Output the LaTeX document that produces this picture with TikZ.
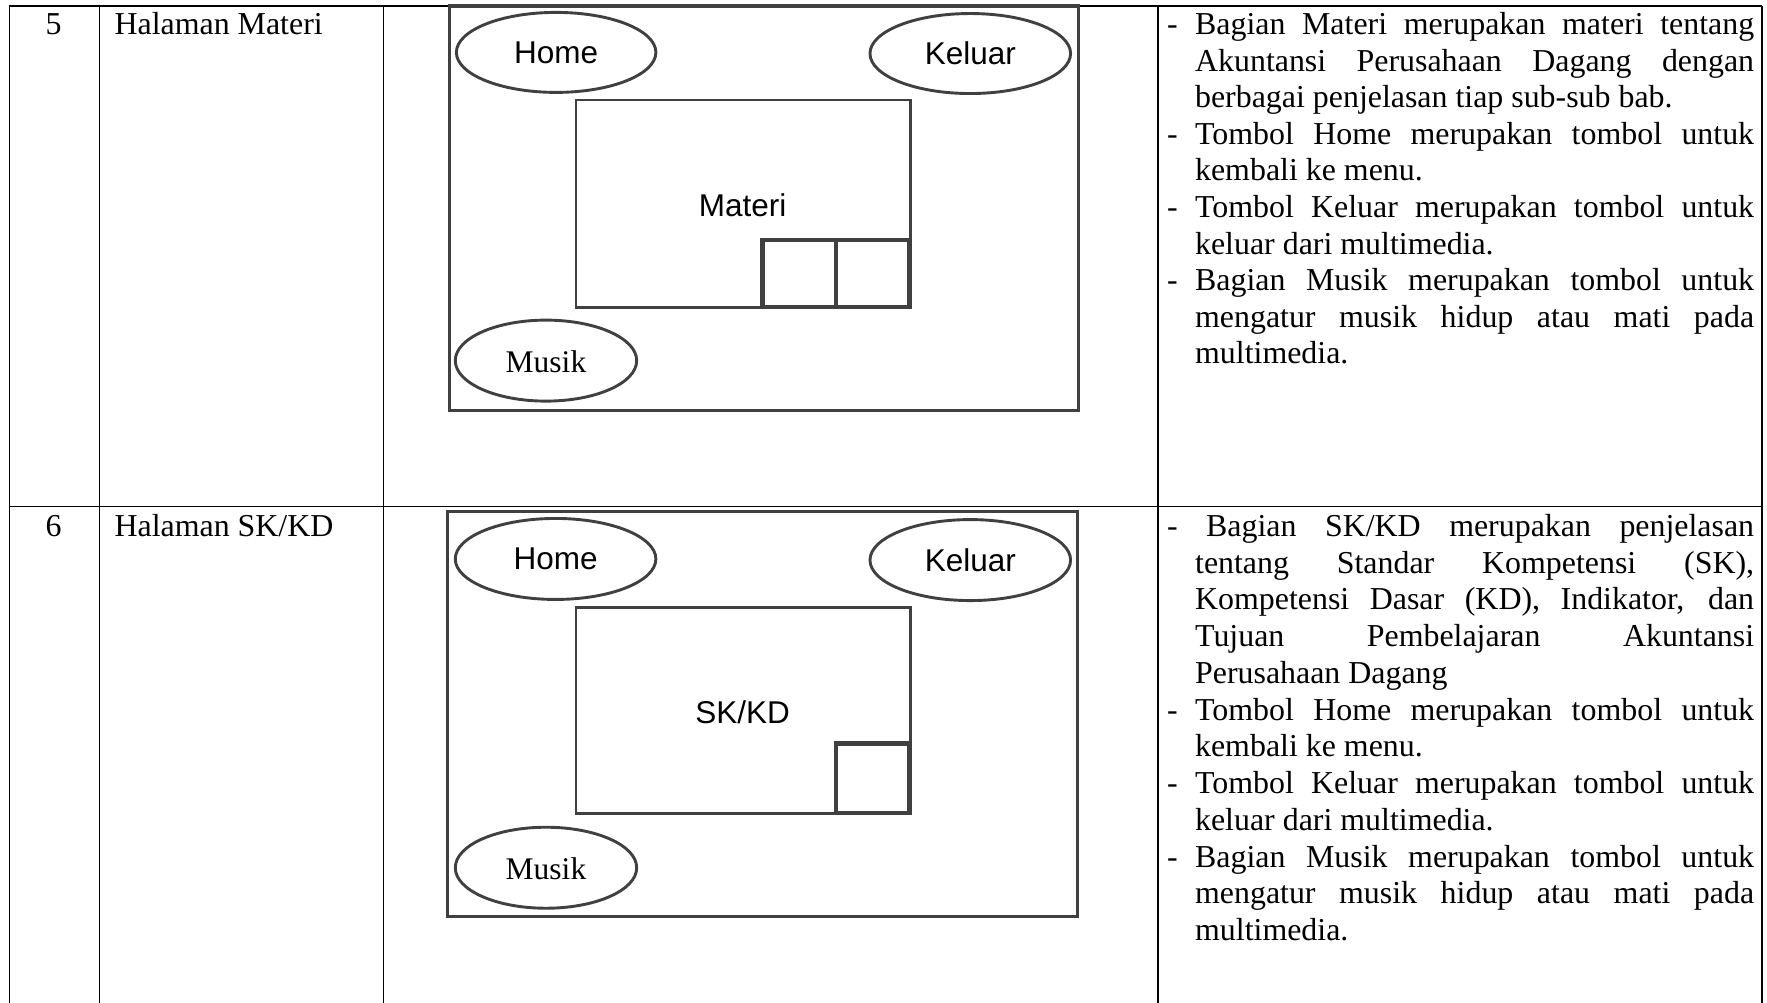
\documentclass[tikz,border=0pt]{standalone}
\usepackage{fontspec}
\setmainfont{Liberation Serif}
\newfontfamily\uisans{Liberation Sans}
\usetikzlibrary{shapes.geometric}

% one justified line of a bullet item, its continuation lines, and a last line
\newcommand\dashline[1]{\makebox[28pt][l]{-}\makebox[559pt][s]{#1}}
\newcommand\dashlinewide[1]{\makebox[28pt][l]{-}\hspace*{11pt}\makebox[548pt][s]{#1}}
\newcommand\fullline[1]{\hspace*{28pt}\makebox[559pt][s]{#1}}
\newcommand\lastline[1]{\hspace*{28pt}#1}

\tikzset{
  grid/.style={line width=1.3pt, black},
  frame/.style={line width=3.2pt, draw=black!75},
  panel/.style={line width=2.4pt, draw=black!75},
  knob/.style={line width=4.6pt, draw=black!75},
  button/.style={ellipse, draw=black!75, line width=2.9pt, inner sep=0pt},
  body/.style={font=\fontsize{31.9}{36.5}\selectfont, inner sep=0pt, anchor=base west},
  uilabel/.style={font=\uisans\fontsize{31.5}{36.5}\selectfont, inner sep=0pt},
}

\begin{document}
\begin{tikzpicture}[x=1.12691pt, y=-1.12691pt]
\useasboundingbox (0,0) rectangle (1568,890);
\fill[white] (0,0) rectangle (1568,890);

% table rules
\coordinate (tl) at (8.3,5.3);
\coordinate (tr) at (1563.6,5.3);
\coordinate (ml) at (8.3,449.6);
\coordinate (mr) at (1563.6,449.6);
\draw[grid] (tl) -- (tr);
\draw[grid] (ml) -- (mr);
\foreach \cx in {8.3,88.1,340.1,1027.5,1563.6}
  \draw[grid] (\cx,5.3) -- (\cx,890);

% row 5
\node[body, anchor=base] (no5) at (47.5,31) {5};
\node[body] (name5) at (101.5,31) {Halaman Materi};

\draw[frame] (399,5.3) rectangle (957,364);
\node[button, minimum width=199.5pt, minimum height=80pt] (home5) at (493.5,46.5) {};
\node[uilabel] (home5t) at (493.5,46.5) {Home};
\node[button, minimum width=200.6pt, minimum height=80pt] (exit5) at (861,47.5) {};
\node[uilabel] (exit5t) at (861,47.5) {Keluar};
\draw[panel] (511,89) rectangle (808,273);
\node[uilabel] (mat5) at (659,182) {Materi};
\draw[knob] (676.8,213) rectangle (741.9,272.5);
\draw[knob] (741.9,213) rectangle (807,272.5);
\node[button, minimum width=181.4pt, minimum height=81pt] (music5) at (484.5,320) {};
\node[font=\fontsize{31.5}{36.5}\selectfont, inner sep=0pt] (music5t) at (484.5,321) {Musik};

\node[body] (d5a) at (1035.5,31.0) {\dashline{Bagian Materi merupakan materi tentang}};
\node[body] (d5b) at (1035.5,63.4) {\fullline{Akuntansi Perusahaan Dagang dengan}};
\node[body] (d5c) at (1035.5,95.8) {\lastline{berbagai penjelasan tiap sub-sub bab.}};
\node[body] (d5d) at (1035.5,128.2) {\dashline{Tombol Home merupakan tombol untuk}};
\node[body] (d5e) at (1035.5,160.6) {\lastline{kembali ke menu.}};
\node[body] (d5f) at (1035.5,193.0) {\dashline{Tombol Keluar merupakan tombol untuk}};
\node[body] (d5g) at (1035.5,225.4) {\lastline{keluar dari multimedia.}};
\node[body] (d5h) at (1035.5,257.8) {\dashline{Bagian Musik merupakan tombol untuk}};
\node[body] (d5i) at (1035.5,290.2) {\fullline{mengatur musik hidup atau mati pada}};
\node[body] (d5j) at (1035.5,322.6) {\lastline{multimedia.}};

% row 6
\node[body, anchor=base] (no6) at (47.5,476) {6};
\node[body] (name6) at (101.5,476) {Halaman SK/KD};

\draw[frame] (397,454) rectangle (956,813);
\node[button, minimum width=200.6pt, minimum height=81pt] (home6) at (493,496) {};
\node[uilabel] (home6t) at (493,496) {Home};
\node[button, minimum width=200.6pt, minimum height=81pt] (exit6) at (861,497) {};
\node[uilabel] (exit6t) at (861,497) {Keluar};
\draw[panel] (511,539) rectangle (808,722);
\node[uilabel] (sk6) at (659,632) {SK/KD};
\draw[knob] (742,660) rectangle (807,721.5);
\node[button, minimum width=181.4pt, minimum height=81pt] (music6) at (484.5,770) {};
\node[font=\fontsize{31.5}{36.5}\selectfont, inner sep=0pt] (music6t) at (484.5,771) {Musik};

\node[body] (d6a) at (1035.5,476.0) {\dashlinewide{Bagian SK/KD merupakan penjelasan}};
\node[body] (d6b) at (1035.5,508.6) {\fullline{tentang Standar Kompetensi (SK),}};
\node[body] (d6c) at (1035.5,541.2) {\fullline{Kompetensi Dasar (KD), Indikator, dan}};
\node[body] (d6d) at (1035.5,573.8) {\fullline{Tujuan Pembelajaran Akuntansi}};
\node[body] (d6e) at (1035.5,606.4) {\lastline{Perusahaan Dagang}};
\node[body] (d6f) at (1035.5,639.0) {\dashline{Tombol Home merupakan tombol untuk}};
\node[body] (d6g) at (1035.5,671.6) {\lastline{kembali ke menu.}};
\node[body] (d6h) at (1035.5,704.2) {\dashline{Tombol Keluar merupakan tombol untuk}};
\node[body] (d6i) at (1035.5,736.8) {\lastline{keluar dari multimedia.}};
\node[body] (d6j) at (1035.5,769.4) {\dashline{Bagian Musik merupakan tombol untuk}};
\node[body] (d6k) at (1035.5,802.0) {\fullline{mengatur musik hidup atau mati pada}};
\node[body] (d6l) at (1035.5,834.6) {\lastline{multimedia.}};
\end{tikzpicture}
\end{document}
